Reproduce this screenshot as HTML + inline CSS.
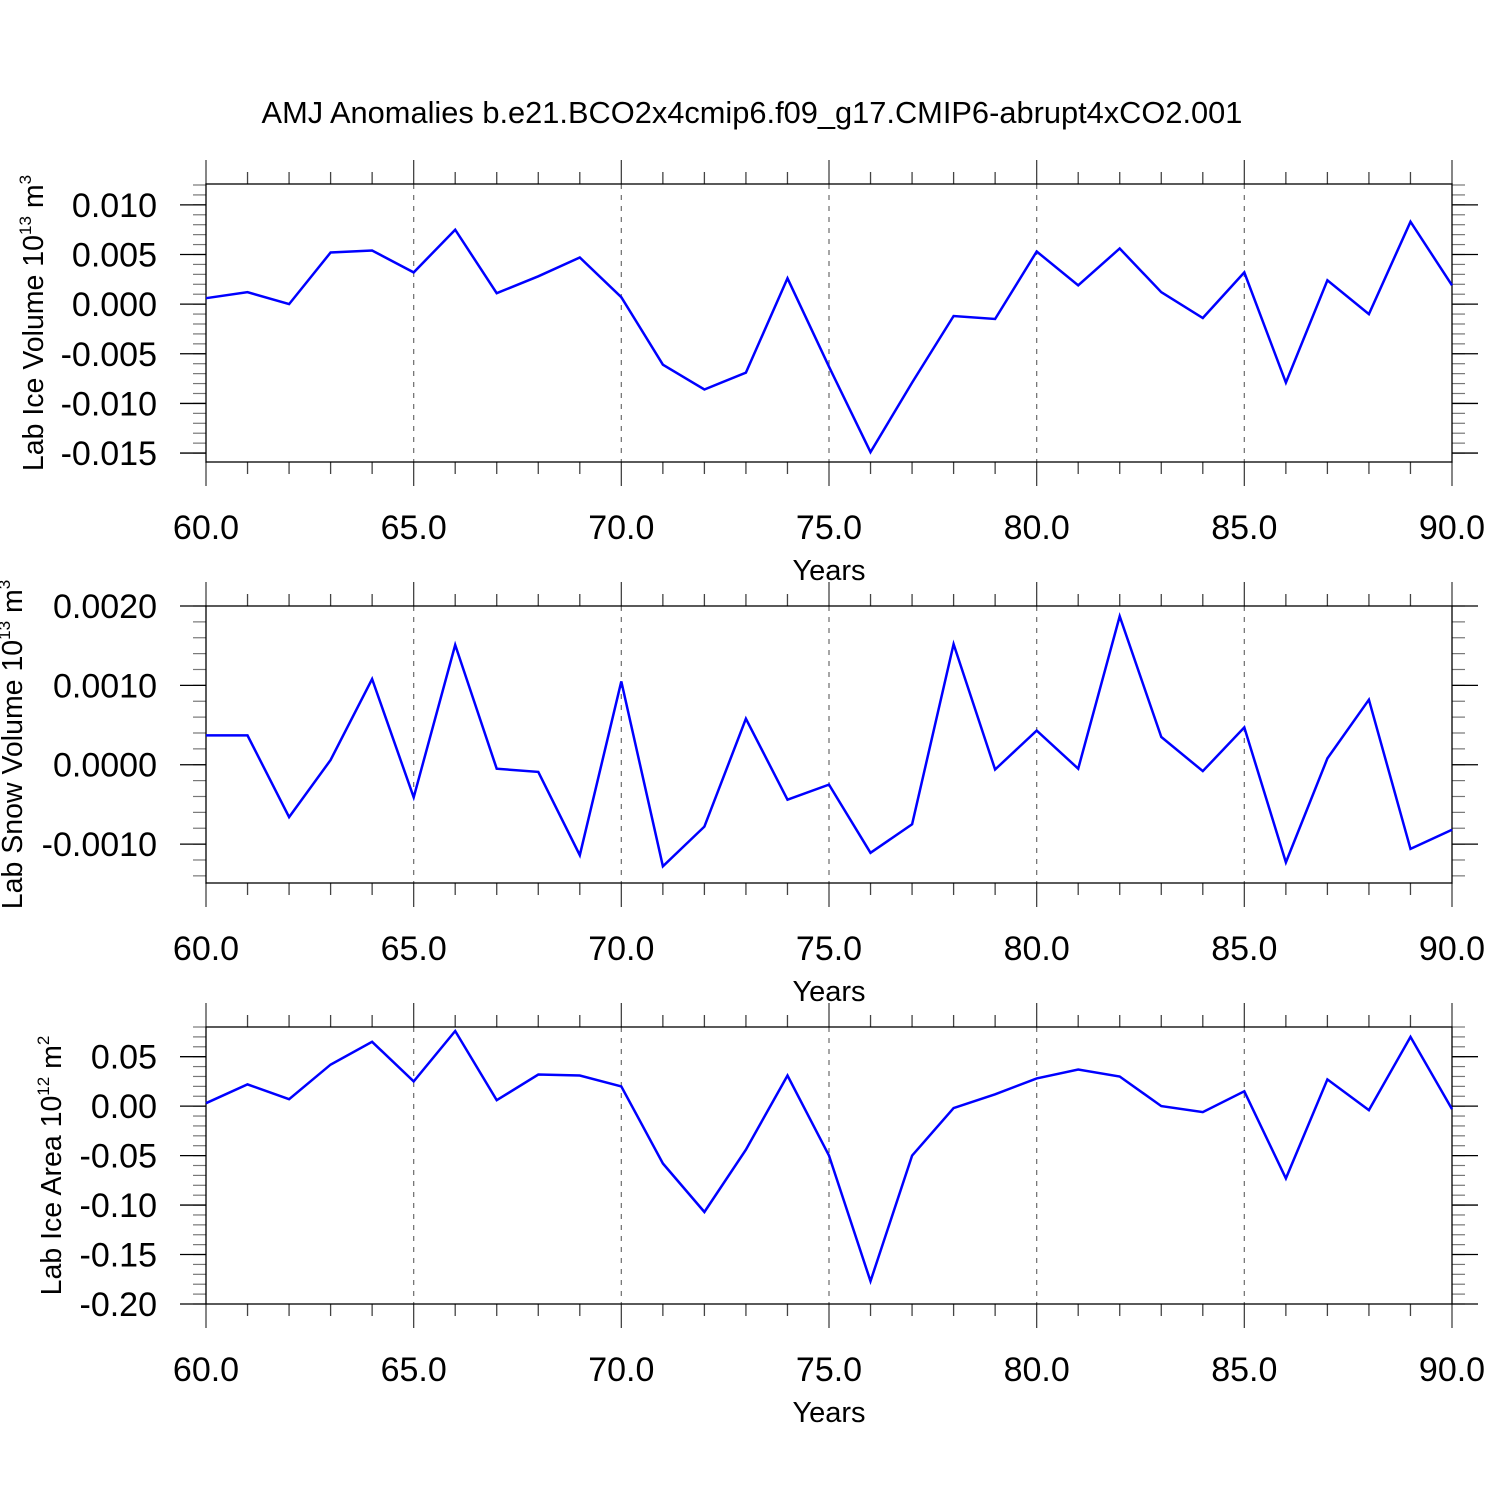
<!DOCTYPE html>
<html><head><meta charset="utf-8"><style>
body{margin:0;background:#fff}
svg{display:block;font-family:"Liberation Sans",sans-serif}
</style></head><body>
<svg id="chart" width="1500" height="1500" viewBox="0 0 1500 1500" xmlns="http://www.w3.org/2000/svg">
<text x="752" y="123" font-size="30.8" text-anchor="middle">AMJ Anomalies b.e21.BCO2x4cmip6.f09_g17.CMIP6-abrupt4xCO2.001</text>
</svg>
<script>
const years = [60,61,62,63,64,65,66,67,68,69,70,71,72,73,74,75,76,77,78,79,80,81,82,83,84,85,86,87,88,89,90];
const iceVolume = [0.0006,0.0012,0.0000,0.0052,0.0054,0.0032,0.0075,0.0011,0.0028,0.0047,0.0007,-0.0061,-0.0086,-0.0069,0.0026,-0.0063,-0.0149,-0.0079,-0.0012,-0.0015,0.0053,0.0019,0.0056,0.0012,-0.0014,0.0032,-0.0079,0.0024,-0.0010,0.0083,0.0019];
const snowVolume = [0.00037,0.00037,-0.00066,0.00006,0.00108,-0.00041,0.00151,-0.00005,-0.00009,-0.00114,0.00105,-0.00128,-0.00078,0.00058,-0.00044,-0.00025,-0.00111,-0.00075,0.00152,-0.00006,0.00043,-0.00005,0.00187,0.00035,-0.00008,0.00047,-0.00123,0.00008,0.00082,-0.00106,-0.00082];
const iceArea = [0.003,0.022,0.007,0.042,0.065,0.025,0.076,0.006,0.032,0.031,0.020,-0.058,-0.107,-0.044,0.031,-0.050,-0.177,-0.050,-0.002,0.012,0.028,0.037,0.030,0.000,-0.006,0.015,-0.073,0.027,-0.004,0.070,-0.003];
const xTickLabels = ["60.0","65.0","70.0","75.0","80.0","85.0","90.0"];
const iceVolTicks = [0.010,0.005,0.000,-0.005,-0.010,-0.015];
const iceVolTickLabels = ["0.010","0.005","0.000","-0.005","-0.010","-0.015"];
const snowTicks = [0.0020,0.0010,0.0000,-0.0010];
const snowTickLabels = ["0.0020","0.0010","0.0000","-0.0010"];
const areaTicks = [0.05,0.00,-0.05,-0.10,-0.15,-0.20];
const areaTickLabels = ["0.05","0.00","-0.05","-0.10","-0.15","-0.20"];

const svg = document.getElementById('chart');
const NS = 'http://www.w3.org/2000/svg';
function mk(tag, attrs, parent){const e=document.createElementNS(NS,tag);for(const k in attrs)e.setAttribute(k,attrs[k]);parent.appendChild(e);return e;}

const X0=206, X1=1452, XMIN=60, XMAX=90;
const xs = v => X0 + (v-XMIN)/(XMAX-XMIN)*(X1-X0);

function panel(name, top, bottom, ymin, ymax, minorStep, ticks, tickLabels, data, ylabelParts, ylabelX){
  const g = mk('g',{},svg);
  
  
  const ys = v => bottom - (v-ymin)/(ymax-ymin)*(bottom-top);
  for(let x=65;x<90;x+=5){
    const l=mk('line',{x1:xs(x),x2:xs(x),y1:top,y2:bottom,stroke:'#777','stroke-width':1.3,'stroke-dasharray':'5,6'},g);
    
    
  }
  for(let x=XMIN;x<=XMAX;x++){
    const major = x%5===0, len = major?24:12;
    mk('line',{x1:xs(x),x2:xs(x),y1:top-len,y2:top,stroke:'#444','stroke-width':1.3},g);
    mk('line',{x1:xs(x),x2:xs(x),y1:bottom,y2:bottom+len,stroke:'#444','stroke-width':1.3},g);
  }
  const start = Math.ceil(ymin/minorStep-1e-6);
  for(let i=start;i*minorStep<=ymax+1e-9;i++){
    const y=ys(i*minorStep);
    mk('line',{x1:X0-13,x2:X0,y1:y,y2:y,stroke:'#777','stroke-width':1.2},g);
    mk('line',{x1:X1,x2:X1+13,y1:y,y2:y,stroke:'#777','stroke-width':1.2},g);
  }
  ticks.forEach((v,i)=>{
    const y=ys(v);
    mk('line',{x1:X0-26,x2:X0,y1:y,y2:y,stroke:'#000','stroke-width':1.3},g);
    mk('line',{x1:X1,x2:X1+26,y1:y,y2:y,stroke:'#000','stroke-width':1.3},g);
    const t=mk('text',{x:157,y:y+12,'font-size':34,'text-anchor':'end'},g);
    t.textContent=tickLabels[i];
    
    
  });
  const f=mk('rect',{x:X0,y:top,width:X1-X0,height:bottom-top,fill:'none',stroke:'#000','stroke-width':1.3},g);
  
  
  xTickLabels.forEach((lab,i)=>{
    const t=mk('text',{x:xs(XMIN+5*i),y:bottom+77,'font-size':34,'text-anchor':'middle'},g);
    t.textContent=lab;
    
    
  });
  const xt=mk('text',{x:829,y:bottom+118,'font-size':29,'text-anchor':'middle'},g);
  xt.textContent='Years';
  
  
  const cy=(top+bottom)/2;
  const yt=mk('text',{x:0,y:0,'font-size':28.5,'text-anchor':'middle',transform:`translate(${ylabelX},${cy}) rotate(-90)`},g);
  
  
  const a=mk('tspan',{},yt); a.textContent=ylabelParts[0];
  const b=mk('tspan',{dy:-12,'font-size':17},yt); b.textContent=ylabelParts[1];
  const c=mk('tspan',{dy:12},yt); c.textContent=' '+ylabelParts[2];
  const d=mk('tspan',{dy:-12,'font-size':17},yt); d.textContent=ylabelParts[3];
  const pts=data.map((v,i)=>xs(years[i]).toFixed(1)+','+ys(v).toFixed(1)).join(' ');
  const pl=mk('polyline',{points:pts,fill:'none',stroke:'#0000ff','stroke-width':2.5,'stroke-linejoin':'miter'},g);
  
  
}
panel('ice-volume',184,462,-0.0159,0.0121,0.001,iceVolTicks,iceVolTickLabels,iceVolume,['Lab Ice Volume 10','13','m','3'],43);
panel('snow-volume',606,883,-0.00149,0.0020,0.0002,snowTicks,snowTickLabels,snowVolume,['Lab Snow Volume 10','13','m','3'],22);
panel('ice-area',1027,1304,-0.20,0.08,0.01,areaTicks,areaTickLabels,iceArea,['Lab Ice Area 10','12','m','2'],61);
</script>
</body></html>
